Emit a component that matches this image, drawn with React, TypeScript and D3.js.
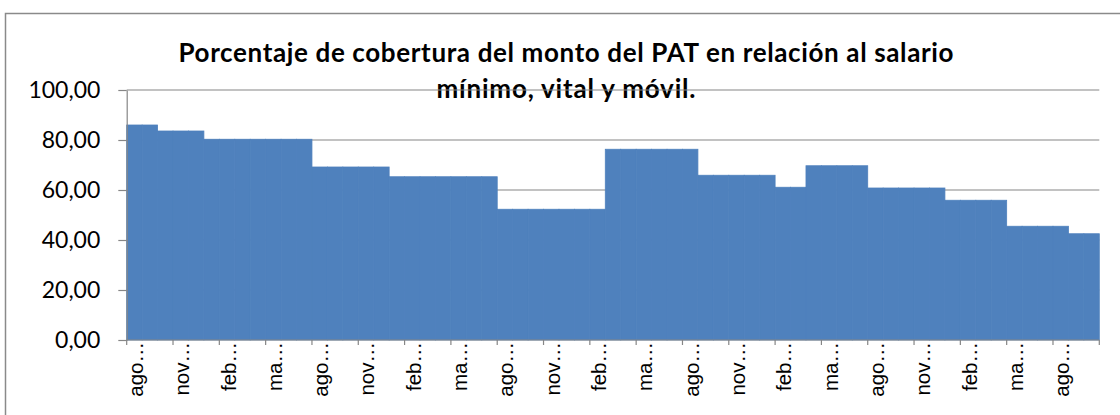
import { useEffect, useRef } from "react";
import * as d3 from "d3";

// monthly categories (ago-2008 .. oct-2013)
const months = [
  "ago-08", "sep-08", "oct-08", "nov-08", "dic-08",
  "ene-09", "feb-09", "mar-09", "abr-09", "may-09", "jun-09", "jul-09", "ago-09", "sep-09", "oct-09", "nov-09", "dic-09",
  "ene-10", "feb-10", "mar-10", "abr-10", "may-10", "jun-10", "jul-10", "ago-10", "sep-10", "oct-10", "nov-10", "dic-10",
  "ene-11", "feb-11", "mar-11", "abr-11", "may-11", "jun-11", "jul-11", "ago-11", "sep-11", "oct-11", "nov-11", "dic-11",
  "ene-12", "feb-12", "mar-12", "abr-12", "may-12", "jun-12", "jul-12", "ago-12", "sep-12", "oct-12", "nov-12", "dic-12",
  "ene-13", "feb-13", "mar-13", "abr-13", "may-13", "jun-13", "jul-13", "ago-13", "sep-13", "oct-13",
];

// % coverage per month
const coverage = [
  86.0, 86.0,
  83.6, 83.6, 83.6,
  80.3, 80.3, 80.3, 80.3, 80.3, 80.3, 80.3,
  69.2, 69.2, 69.2, 69.2, 69.2,
  65.3, 65.3, 65.3, 65.3, 65.3, 65.3, 65.3,
  52.3, 52.3, 52.3, 52.3, 52.3, 52.3, 52.3,
  76.3, 76.3, 76.3, 76.3, 76.3, 76.3,
  65.9, 65.9, 65.9, 65.9, 65.9,
  61.1, 61.1,
  69.7, 69.7, 69.7, 69.7,
  60.8, 60.8, 60.8, 60.8, 60.8,
  55.9, 55.9, 55.9, 55.9,
  45.5, 45.5, 45.5, 45.5,
  42.5, 42.5,
];

// labels shown every 3 months (truncated as in the original)
const tickLabels = [
  "ago…", "nov…", "feb…", "ma…", "ago…", "nov…", "feb…", "ma…", "ago…", "nov…", "feb…",
  "ma…", "ago…", "nov…", "feb…", "ma…", "ago…", "nov…", "feb…", "ma…", "ago…",
];

const yTicks = [0, 20, 40, 60, 80, 100];

const titleLines = [
  "Porcentaje de cobertura del monto del PAT en relación al salario",
  "mínimo, vital y móvil.",
];

export default function App() {
  const ref = useRef<SVGSVGElement>(null);

  useEffect(() => {
    const svg = d3.select(ref.current);
    svg.selectAll("*").remove();

    const left = 126.7, right = 1099.3, bottom = 340, top = 90;
    const axisColor = "#868686";
    const barColor = "#4F81BD";

    const x = d3.scaleBand<string>().domain(months).range([left, right]).padding(0);
    const y = d3.scaleLinear().domain([0, 100]).range([bottom, top]);

    // chart border
    svg
      .append("rect")
      .attr("x", 5.5)
      .attr("y", 13.5)
      .attr("width", 1300)
      .attr("height", 600)
      .attr("fill", "#fff")
      .attr("stroke", "#8a8a8a")
      .attr("stroke-width", 1.5);

    // title (drawn first, the 100 gridline runs over the second line)
    const titleWidths = [775, 259];
    svg
      .append("g")
      .selectAll("text")
      .data(titleLines)
      .join("text")
      .attr("x", 566)
      .attr("y", (_, i) => 62 + i * 36)
      .attr("text-anchor", "middle")
      .attr("font-family", "Lato, sans-serif")
      .attr("font-weight", "bold")
      .attr("font-size", 26)
      .attr("textLength", (_, i) => titleWidths[i])
      .attr("lengthAdjust", "spacing")
      .attr("fill", "#000")
      .text((d) => d);

    // gridlines
    svg
      .append("g")
      .selectAll("line")
      .data(yTicks.slice(1))
      .join("line")
      .attr("x1", left)
      .attr("x2", right)
      .attr("y1", (d) => y(d))
      .attr("y2", (d) => y(d))
      .attr("stroke", axisColor)
      .attr("stroke-width", 1.2);

    // bars (gap width 0)
    svg
      .append("g")
      .selectAll("rect")
      .data(coverage)
      .join("rect")
      .attr("x", (_, i) => x(months[i])!)
      .attr("y", (d) => y(d))
      .attr("width", x.bandwidth())
      .attr("height", (d) => bottom - y(d))
      .attr("fill", barColor)
      .attr("stroke", barColor)
      .attr("stroke-width", 0.8);

    // y axis
    const yAxis = svg
      .append("g")
      .attr("transform", `translate(${left},0)`)
      .call(
        d3
          .axisLeft(y)
          .tickValues(yTicks)
          .tickSize(8.4)
          .tickSizeOuter(0)
          .tickPadding(18)
          .tickFormat((d) => d3.format(".2f")(d as number).replace(".", ","))
      );
    yAxis.select(".domain").attr("stroke", axisColor).attr("stroke-width", 1.2);
    yAxis.selectAll(".tick line").attr("stroke", axisColor).attr("stroke-width", 1.2);
    yAxis
      .selectAll(".tick text")
      .attr("font-family", "Lato, sans-serif")
      .attr("font-size", 23)
      .attr("fill", "#000");

    // x axis
    svg
      .append("line")
      .attr("x1", left)
      .attr("x2", right)
      .attr("y1", bottom)
      .attr("y2", bottom)
      .attr("stroke", axisColor)
      .attr("stroke-width", 1.2);

    const groupStarts = months.filter((_, i) => i % 3 === 0);
    const tickPos = groupStarts.map((m) => x(m)!).concat([right]);
    svg
      .append("g")
      .selectAll("line")
      .data(tickPos)
      .join("line")
      .attr("x1", (d) => d)
      .attr("x2", (d) => d)
      .attr("y1", bottom)
      .attr("y2", bottom + 5)
      .attr("stroke", axisColor)
      .attr("stroke-width", 1.2);

    svg
      .append("g")
      .selectAll("text")
      .data(groupStarts)
      .join("text")
      .attr("transform", (m) => `translate(${x(m)! + x.bandwidth() / 2 + 1},${bottom + 2}) rotate(-90)`)
      .attr("text-anchor", "end")
      .attr("dominant-baseline", "central")
      .attr("font-family", "'Liberation Sans', Arial, sans-serif")
      .attr("font-size", 20.5)
      .attr("fill", "#000")
      .text((_, i) => tickLabels[i]);
  }, []);

  return (
    <svg
      ref={ref}
      width={1120}
      height={415}
      style={{ position: "absolute", left: 0, top: 0, display: "block" }}
    />
  );
}
